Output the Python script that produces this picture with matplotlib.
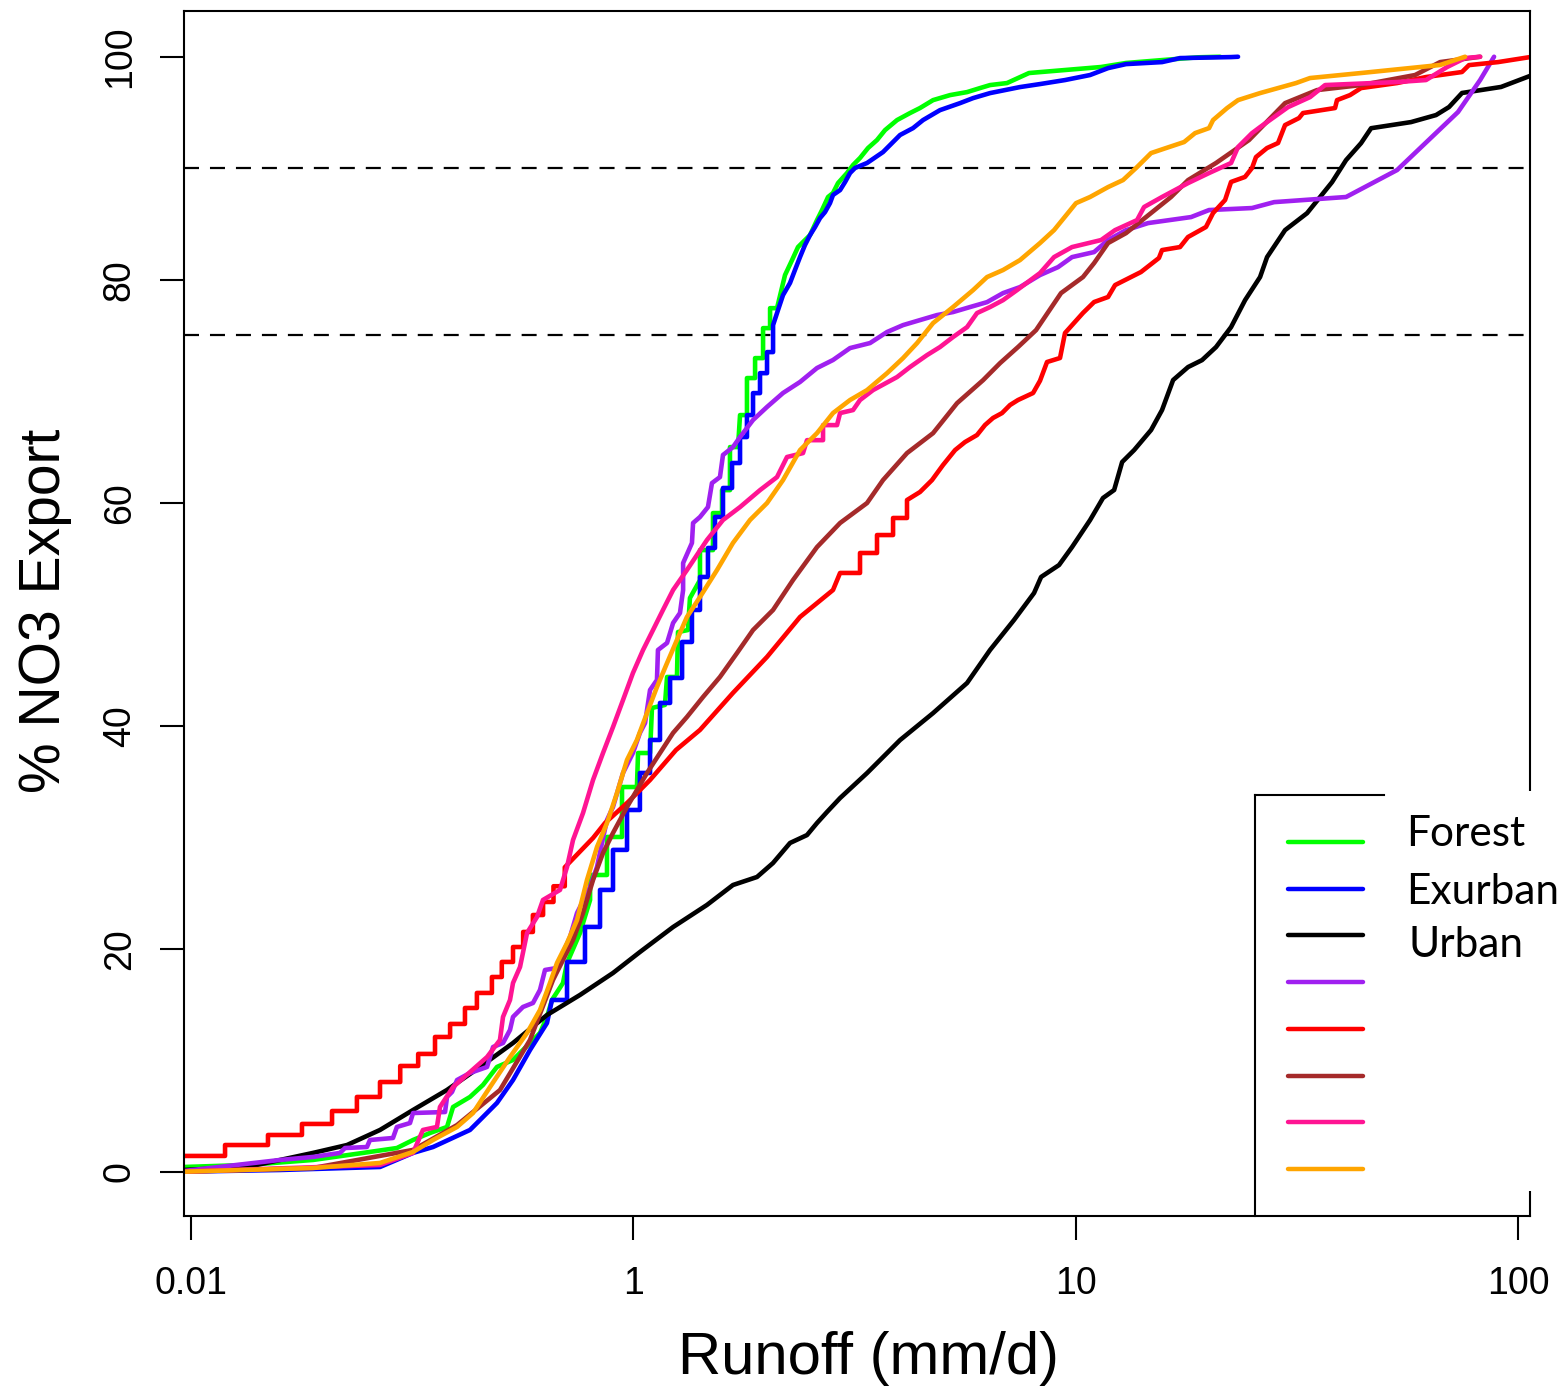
import numpy as np
import matplotlib.pyplot as plt
from matplotlib.lines import Line2D
from matplotlib.patches import Rectangle

plt.rcParams['font.family'] = ['Liberation Sans', 'DejaVu Sans']
plt.rcParams['lines.scale_dashes'] = False

########## data: (runoff mm/d, % NO3 export) ##########
forest = [(0.0964, 0.42), (0.134, 0.60), (0.1888, 1.05), (0.2448, 1.68), (0.2921, 2.12), (0.3177, 2.84),
          (0.3470, 3.47), (0.3792, 4.01), (0.3913, 5.80), (0.4273, 6.70), (0.4573, 7.78), (0.4917, 9.39),
          (0.5346, 10.02), (0.5840, 11.54), (0.6152, 12.44), (0.6380, 13.88), (0.6548, 15.40), (0.6934, 16.92),
          (0.7082, 18.72), (0.7577, 21.41), (0.7985, 24.37), (0.7985, 26.61), (0.8720, 26.61), (0.8720, 30.02),
          (0.9429, 30.02), (0.9429, 34.50), (1.019, 34.50), (1.025, 37.55), (1.091, 37.55), (1.102, 41.59),
          (1.179, 41.86), (1.192, 44.37), (1.255, 44.37), (1.262, 48.40), (1.329, 48.58), (1.343, 51.45),
          (1.415, 53.06), (1.415, 55.75), (1.514, 55.75), (1.514, 59.07), (1.587, 59.07), (1.587, 61.13),
          (1.654, 61.13), (1.654, 64.99), (1.725, 64.99), (1.743, 67.86), (1.807, 67.86), (1.807, 71.18),
          (1.885, 71.18), (1.885, 72.97), (1.965, 72.97), (1.965, 75.66), (2.038, 75.66), (2.038, 77.45),
          (2.113, 77.45), (2.203, 80.42), (2.285, 81.76), (2.357, 82.93), (2.419, 83.38), (2.509, 84.00),
          (2.602, 85.35), (2.671, 86.25), (2.756, 87.42), (2.828, 87.78), (2.903, 88.67), (3.042, 89.57),
          (3.139, 90.29), (3.255, 90.92), (3.393, 91.81), (3.556, 92.53), (3.708, 93.42), (3.947, 94.32),
          (4.223, 94.95), (4.448, 95.40), (4.761, 96.11), (5.201, 96.56), (5.683, 96.83), (6.080, 97.19),
          (6.405, 97.46), (6.996, 97.64), (7.846, 98.54), (9.465, 98.81), (11.42, 99.08), (13.00, 99.44),
          (15.68, 99.70), (18.92, 99.95), (21.21, 100.0)]

exurban = [(0.0964, 0.0), (0.1590, 0.15), (0.2675, 0.42), (0.3177, 1.68), (0.3525, 2.21), (0.4273, 3.74),
           (0.4501, 4.63), (0.4917, 6.16), (0.5346, 8.22), (0.5840, 10.91), (0.6380, 13.33), (0.6548, 15.40),
           (0.7082, 15.40), (0.7082, 18.81), (0.7776, 18.81), (0.7776, 21.95), (0.8409, 21.95), (0.8409, 25.27),
           (0.8997, 25.27), (0.8997, 28.86), (0.9678, 28.86), (0.9678, 32.44), (1.035, 32.44), (1.035, 35.76),
           (1.091, 35.76), (1.091, 38.72), (1.149, 38.72), (1.149, 42.04), (1.211, 42.04), (1.211, 44.28),
           (1.289, 44.28), (1.289, 47.51), (1.357, 47.51), (1.357, 50.38), (1.415, 50.38), (1.415, 53.34),
           (1.475, 53.34), (1.475, 55.94), (1.530, 55.94), (1.530, 58.72), (1.595, 58.72), (1.595, 61.32),
           (1.672, 61.32), (1.672, 63.56), (1.743, 63.56), (1.743, 65.89), (1.807, 65.89), (1.807, 67.86),
           (1.865, 67.86), (1.865, 69.83), (1.934, 69.83), (1.934, 71.62), (2.006, 71.62), (2.006, 73.51),
           (2.070, 73.51), (2.070, 75.93), (2.124, 77.28), (2.180, 78.62), (2.261, 79.71), (2.320, 80.87),
           (2.382, 82.04), (2.444, 83.11), (2.509, 84.00), (2.575, 84.72), (2.643, 85.53), (2.713, 86.07),
           (2.784, 86.87), (2.828, 87.60), (2.934, 88.04), (3.011, 88.76), (3.090, 89.57), (3.171, 90.02),
           (3.376, 90.47), (3.669, 91.45), (4.009, 92.98), (4.290, 93.60), (4.519, 94.32), (4.935, 95.21),
           (5.479, 95.84), (5.864, 96.29), (6.405, 96.74), (7.485, 97.28), (8.308, 97.55), (9.465, 97.91),
           (10.78, 98.36), (11.84, 98.98), (13.00, 99.34), (15.68, 99.52), (17.22, 99.88), (22.46, 99.97),
           (23.29, 100.0)]

urban = [(0.0964, 0.15), (0.1340, 0.42), (0.1591, 1.05), (0.1887, 1.68), (0.2253, 2.39), (0.2675, 3.74),
         (0.3177, 5.53), (0.3792, 7.33), (0.4501, 9.39), (0.5346, 11.54), (0.6380, 14.05), (0.7577, 15.85),
         (0.8997, 17.82), (1.035, 19.70), (1.230, 21.94), (1.467, 23.92), (1.680, 25.71), (1.904, 26.43),
         (2.069, 27.68), (2.261, 29.48), (2.470, 30.19), (2.602, 31.27), (2.741, 32.26), (2.934, 33.51),
         (3.376, 35.75), (4.009, 38.71), (4.761, 41.13), (5.683, 43.83), (6.405, 46.79), (7.256, 49.48),
         (8.054, 51.90), (8.355, 53.34), (9.173, 54.41), (9.815, 56.02), (10.78, 58.44), (11.53, 60.42),
         (12.22, 61.14), (12.74, 63.65), (13.56, 64.72), (14.81, 66.52), (15.68, 68.31), (16.61, 71.00),
         (17.96, 72.17), (19.31, 72.79), (20.77, 73.96), (22.46, 75.75), (24.16, 78.17), (26.12, 80.24),
         (27.09, 82.03), (29.75, 84.45), (33.36, 85.97), (37.99, 88.75), (40.87, 90.73), (44.19, 92.25),
         (46.56, 93.59), (57.33, 94.14), (65.29, 94.77), (69.86, 95.49), (74.74, 96.75), (91.58, 97.29),
         (106.5, 98.28)]

site_purple = [(0.0964, 0.06), (0.1590, 1.05), (0.1888, 1.32), (0.2172, 1.68), (0.2229, 2.12), (0.2499, 2.21),
               (0.2539, 2.84), (0.2862, 3.02), (0.2921, 4.01), (0.3127, 4.36), (0.3177, 5.26), (0.3753, 5.35),
               (0.3792, 6.70), (0.3892, 7.15), (0.3995, 8.22), (0.4273, 8.85), (0.4670, 9.39), (0.4818, 11.18),
               (0.5075, 11.54), (0.5263, 12.71), (0.5346, 13.88), (0.5630, 14.77), (0.5932, 15.13), (0.6152, 16.30),
               (0.6315, 18.09), (0.6722, 18.27), (0.6828, 18.99), (0.7194, 21.05), (0.7461, 23.20), (0.7985, 25.54),
               (0.8278, 27.33), (0.8495, 29.48), (0.8720, 31.54), (0.8997, 32.71), (0.9478, 35.76), (0.998, 37.55),
               (1.035, 39.35), (1.063, 40.24), (1.091, 43.20), (1.131, 44.10), (1.137, 46.79), (1.192, 47.42),
               (1.230, 49.21), (1.275, 50.11), (1.296, 52.17), (1.296, 54.59), (1.357, 56.39), (1.365, 58.18),
               (1.415, 58.72), (1.475, 59.61), (1.506, 61.76), (1.570, 62.30), (1.595, 64.28), (1.680, 64.99),
               (1.743, 65.89), (1.865, 67.42), (2.006, 68.59), (2.180, 69.84), (2.382, 70.83), (2.602, 72.08),
               (2.828, 72.80), (3.090, 73.87), (3.429, 74.32), (3.747, 75.31), (4.072, 75.93), (4.448, 76.38),
               (4.860, 76.83), (5.283, 77.10), (5.772, 77.55), (6.306, 77.99), (6.853, 78.80), (7.485, 79.34),
               (8.308, 80.42), (9.125, 81.13), (9.815, 82.03), (11.01, 82.48), (11.84, 83.56), (13.00, 84.45),
               (14.58, 85.08), (18.24, 85.62), (20.03, 86.25), (25.05, 86.43), (28.10, 86.96), (40.87, 87.42),
               (53.31, 89.84), (59.46, 91.63), (73.20, 95.04), (82.13, 97.91), (88.31, 100.0)]

site_red = [(0.0964, 1.41), (0.1194, 1.41), (0.1194, 2.39), (0.1493, 2.39), (0.1493, 3.29), (0.1782, 3.29),
            (0.1782, 4.28), (0.2084, 4.28), (0.2084, 5.44), (0.2372, 5.44), (0.2372, 6.70), (0.2675, 6.70),
            (0.2675, 8.04), (0.2972, 8.04), (0.2972, 9.48), (0.3263, 9.48), (0.3263, 10.56), (0.3562, 10.56),
            (0.3562, 12.08), (0.3853, 12.08), (0.3853, 13.25), (0.4163, 13.25), (0.4163, 14.68), (0.4430, 14.68),
            (0.4430, 16.03), (0.4790, 16.03), (0.4790, 17.46), (0.5043, 17.46), (0.5043, 18.81), (0.5346, 18.81),
            (0.5346, 20.15), (0.5636, 20.15), (0.5636, 21.50), (0.5929, 21.50), (0.5929, 23.02), (0.6252, 23.02),
            (0.6252, 24.19), (0.660, 24.19), (0.660, 25.6), (0.700, 25.6), (0.700, 27.3), (0.811, 29.93),
            (0.863, 31.27), (0.973, 33.15), (1.091, 35.13), (1.249, 37.82), (1.415, 39.62), (1.680, 42.94),
            (2.006, 46.17), (2.382, 49.75), (2.828, 52.17), (2.934, 53.70), (3.255, 53.70), (3.255, 55.49),
            (3.556, 55.49), (3.556, 57.10), (3.866, 57.10), (3.866, 58.63), (4.157, 58.63), (4.157, 60.24),
            (4.448, 60.96), (4.735, 62.03), (5.014, 63.38), (5.339, 64.72), (5.622, 65.44), (5.985, 66.07),
            (6.240, 66.97), (6.505, 67.60), (6.817, 68.04), (7.106, 68.76), (7.408, 69.21), (8.013, 69.84),
            (8.308, 70.94), (8.617, 72.62), (9.220, 72.98), (9.462, 75.22), (10.39, 77.02), (11.01, 78.00),
            (11.84, 78.45), (12.28, 79.52), (14.05, 80.69), (15.43, 81.95), (15.68, 82.66), (17.22, 82.93),
            (17.95, 83.83), (19.71, 84.73), (20.45, 85.98), (21.77, 87.15), (22.46, 88.77), (24.15, 89.22),
            (25.05, 90.02), (25.57, 91.00), (27.08, 91.81), (28.68, 92.26), (29.75, 93.87), (31.99, 94.50),
            (32.66, 94.95), (38.59, 95.40), (38.99, 96.11), (41.72, 96.56), (44.18, 97.19), (53.29, 97.64),
            (61.96, 98.18), (74.72, 98.63), (77.49, 99.25), (90.14, 99.52), (106.5, 99.97)]

site_brown = [(0.0964, 0.0), (0.1888, 0.33), (0.3177, 1.95), (0.3995, 4.18), (0.4995, 7.32), (0.5840, 11.81),
              (0.6582, 17.19), (0.7307, 20.78), (0.7697, 23.20), (0.8108, 26.16), (0.8541, 28.58), (0.8997, 30.38),
              (0.9678, 32.71), (1.019, 34.23), (1.074, 35.76), (1.149, 37.55), (1.230, 39.35), (1.322, 40.78),
              (1.438, 42.58), (1.570, 44.37), (1.716, 46.52), (1.865, 48.58), (2.070, 50.38), (2.296, 53.06),
              (2.602, 56.02), (2.934, 58.18), (3.376, 59.97), (3.669, 62.03), (4.157, 64.45), (4.761, 66.24),
              (5.395, 68.93), (6.176, 70.99), (6.747, 72.52), (7.408, 73.96), (8.138, 75.48), (9.268, 78.80),
              (10.39, 80.24), (11.01, 81.49), (11.84, 83.29), (13.00, 84.18), (16.43, 87.42), (17.96, 88.94),
              (20.77, 90.47), (24.66, 92.53), (29.75, 95.84), (35.14, 97.01), (44.19, 97.46), (58.54, 98.36),
              (66.68, 99.52), (82.13, 100.0)]

site_pink = [(0.0964, 0.0), (0.2675, 0.60), (0.3177, 1.68), (0.3345, 3.74), (0.3598, 4.01), (0.3655, 5.80),
             (0.3913, 7.59), (0.4670, 10.28), (0.4995, 11.81), (0.5075, 13.88), (0.5263, 15.40), (0.5346, 16.92),
             (0.5545, 18.36), (0.5751, 21.41), (0.6057, 22.84), (0.6249, 24.37), (0.6828, 25.27), (0.7082, 27.33),
             (0.7307, 29.75), (0.7697, 32.17), (0.8108, 35.13), (0.8541, 37.55), (0.8997, 39.88), (0.9478, 42.30),
             (0.998, 44.72), (1.052, 46.79), (1.108, 48.58), (1.167, 50.38), (1.230, 52.17), (1.322, 53.96),
             (1.467, 56.65), (1.595, 58.45), (1.743, 59.61), (1.934, 61.13), (2.113, 62.30), (2.226, 64.10),
             (2.419, 64.45), (2.470, 65.61), (2.685, 65.61), (2.685, 66.96), (2.888, 66.96), (2.934, 68.04),
             (3.139, 68.31), (3.255, 69.21), (3.483, 70.10), (3.947, 71.27), (4.223, 72.17), (4.614, 73.24),
             (4.935, 73.96), (5.283, 74.86), (5.683, 75.75), (5.985, 77.01), (6.405, 77.55), (6.853, 78.17),
             (7.370, 79.07), (8.308, 80.60), (8.938, 82.03), (9.815, 82.93), (11.42, 83.56), (12.28, 84.45),
             (13.77, 85.35), (14.28, 86.52), (15.68, 87.42), (17.96, 88.67), (20.03, 89.57), (22.46, 90.47),
             (23.29, 91.90), (25.05, 93.15), (26.12, 93.69), (28.10, 94.59), (30.21, 95.48), (33.88, 96.38),
             (36.64, 97.46), (53.31, 97.73), (61.96, 97.91), (69.17, 99.08), (75.94, 99.88), (82.13, 100.0)]

site_orange = [(0.0964, 0.0), (0.1888, 0.33), (0.2675, 0.78), (0.3177, 1.77), (0.3525, 2.84), (0.3995, 4.01),
               (0.4341, 5.26), (0.4743, 7.59), (0.5263, 10.28), (0.5751, 12.44), (0.6152, 14.50), (0.6480, 16.92),
               (0.6722, 18.72), (0.7082, 20.51), (0.7461, 22.57), (0.7857, 26.16), (0.8278, 29.12), (0.8720, 31.27),
               (0.9186, 33.96), (0.9678, 36.93), (1.019, 38.72), (1.074, 41.14), (1.131, 43.47), (1.192, 45.62),
               (1.255, 47.69), (1.322, 49.75), (1.415, 51.54), (1.546, 53.96), (1.680, 56.39), (1.836, 58.45),
               (2.006, 59.97), (2.180, 62.03), (2.382, 64.72), (2.602, 66.24), (2.828, 68.04), (3.090, 69.21),
               (3.376, 70.10), (3.747, 71.62), (4.072, 72.97), (4.381, 74.32), (4.761, 76.11), (5.283, 77.55),
               (5.864, 79.07), (6.306, 80.24), (6.853, 80.87), (7.485, 81.76), (8.308, 83.29), (8.938, 84.45),
               (10.02, 86.87), (10.78, 87.42), (11.84, 88.31), (12.80, 88.94), (13.77, 90.11), (14.81, 91.36),
               (16.01, 91.81), (17.59, 92.35), (18.62, 93.15), (20.03, 93.60), (20.45, 94.32), (21.99, 95.39),
               (23.29, 96.11), (26.12, 96.74), (31.50, 97.64), (33.88, 98.09), (44.19, 98.54), (66.68, 99.26),
               (75.94, 100.0)]

series = [forest, exurban, urban, site_purple, site_red, site_brown, site_pink, site_orange]
colors = ['#00FF00', '#0000FF', '#000000', '#A020F0', '#FF0000', '#A52A2A', '#FF1493', '#FFA500']
legend_names = ['Forest', 'Exurban', 'Urban']
ref_levels = [75, 90]
x_ticks = [0.1, 1, 10, 100]
x_ticklabels = ['0.01', '1', '10', '100']
y_ticks = [0, 20, 40, 60, 80, 100]

########## figure ##########
W, H = 1564, 1386
fig = plt.figure(figsize=(W / 100, H / 100), dpi=100)
ax = fig.add_axes([184 / W, 1 - 1215.7 / H, (1529.5 - 184) / W, (1215.7 - 10.7) / H])

for lvl in ref_levels:
    ax.axhline(lvl, color='black', lw=1.6, ls=(0, (10.8, 7.9)), zorder=1)

for pts, col in zip(series, colors):
    xy = np.array(pts)
    ax.plot(xy[:, 0], xy[:, 1], color=col, lw=3.3, solid_capstyle='round', zorder=2)

ax.set_xscale('log')
ax.set_xlim(0.09643, 106.2)
ax.set_ylim(-3.95, 104.13)
ax.set_xticks(x_ticks)
ax.set_xticklabels(x_ticklabels)
ax.xaxis.set_minor_locator(plt.NullLocator())
ax.set_yticks(y_ticks)
ax.tick_params(length=17.3, width=1.5, labelsize=27, direction='out')
ax.tick_params(axis='x', pad=19)
ax.tick_params(axis='y', pad=16, labelrotation=90)
for lab in ax.get_yticklabels():
    lab.set_va('center')
for s in ax.spines.values():
    s.set_linewidth(1.5)

fig.text(868 / W, 1 - 1358 / H, 'Runoff (mm/d)', fontsize=43, ha='center', va='center')
fig.text(45 / W, 1 - 611 / H, '% NO3 Export', fontsize=41, rotation=90, ha='center', va='center')

########## legend (pasted box, covers part of the right frame) ##########
fig.add_artist(Rectangle((1384 / W, 1 - 1191 / H), (W - 1384) / W, (1191 - 791) / H,
                         transform=fig.transFigure, facecolor='white', edgecolor='none', zorder=5))
fig.add_artist(Line2D([1255 / W, 1255 / W], [1 - 795 / H, 1 - 1215.7 / H], transform=fig.transFigure,
                      color='black', lw=1.5, zorder=6))
fig.add_artist(Line2D([1255 / W, 1384 / W], [1 - 795 / H, 1 - 795 / H], transform=fig.transFigure,
                      color='black', lw=1.5, zorder=6))
for i, col in enumerate(colors):
    yy = 1 - (842 + i * 46.7) / H
    fig.add_artist(Line2D([1288 / W, 1363 / W], [yy, yy], transform=fig.transFigure,
                          color=col, lw=3.2, solid_capstyle='round', zorder=6))
for name, tx, ty in zip(legend_names, [1405.7, 1405.7, 1409], [845.7, 904, 956.7]):
    fig.text(tx / W, 1 - ty / H, name, fontsize=30.5, family=['Lato', 'DejaVu Sans'],
             ha='left', va='baseline', zorder=7)

fig.savefig('out.png', dpi=100)
